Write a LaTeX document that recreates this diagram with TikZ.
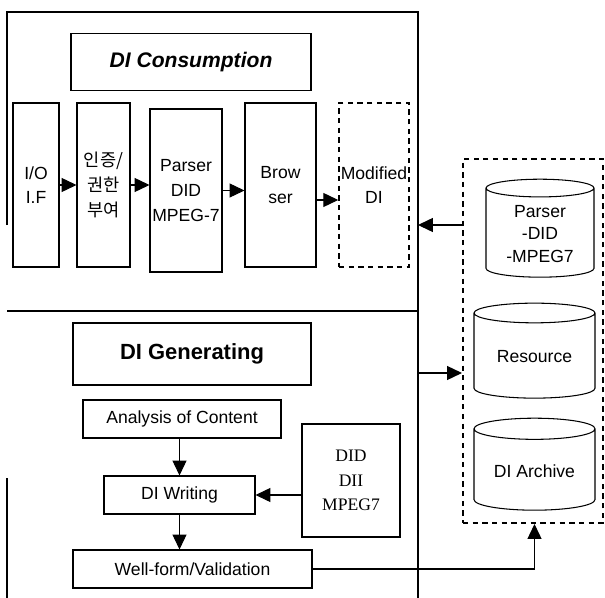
\documentclass[tikz,border=0pt]{standalone}
\usepackage{fontspec}
\setmainfont{Liberation Sans}
\newfontfamily\krfont{Noto Sans CJK KR}
\newfontfamily\serfont{Liberation Serif}
\usetikzlibrary{arrows.meta,shapes.geometric}

\tikzset{
    box/.style={draw, line width=0.6pt, inner sep=1pt, align=center,
        font=\fontsize{10}{14}\selectfont},
    dashbox/.style={box, dash pattern=on 3pt off 2.5pt, line width=0.9pt},
    db/.style={draw, cylinder, shape border rotate=90, aspect=0.25,
        line width=0.6pt, inner sep=1pt, align=center,
        font=\fontsize{10}{13}\selectfont},
    arr/.style={line width=0.6pt, -{Triangle[length=8.5pt,width=8pt]}},
}

\begin{document}
\begin{tikzpicture}[x=0.02cm, y=-0.02cm]
    \useasboundingbox (0,0) rectangle (605,598);

    % Frame of the two parts
    \draw[line width=0.6pt] (7,225) -- (7,12) -- (418,12) -- (418,598);
    \draw[line width=0.6pt] (7,478) -- (7,598);
    \draw[line width=0.6pt] (7,311) -- (418,311); % Split line

    % Consumption part
    \node[box, minimum width=4.8cm, minimum height=1.14cm,
        font=\fontsize{12}{14}\selectfont\bfseries\itshape] (cons) at (191,62) {DI Consumption};
    \node[box, minimum width=0.92cm, minimum height=3.28cm] (io) at (36,185) {I/O\\I.F};
    \node[box, minimum width=1.06cm, minimum height=3.28cm, font=\fontsize{10}{14}\krfont] (auth) at (103.5,185) {인증/\\권한\\부여};
    \node[box, minimum width=1.44cm, minimum height=3.26cm] (parser) at (186,190.5) {Parser\\DID\\MPEG-7};
    \node[box, minimum width=1.42cm, minimum height=3.28cm] (browser) at (280.5,185) {Brow\\ser};
    \node[dashbox, minimum width=1.4cm, minimum height=3.28cm] (modified) at (374,185) {Modified\\DI};

    % Arrows between the steps
    \draw[arr] (io.east) -- (auth.west);
    \draw[arr] (auth.east) -- (auth.east -| parser.west);
    \draw[arr] (parser.east) -- (parser.east -| browser.west);
    \draw[arr] ([yshift=-0.3cm]browser.east) -- ([yshift=-0.3cm]browser.east -| modified.west);

    % Generating part
    \node[box, minimum width=4.76cm, minimum height=1.24cm,
        font=\fontsize{12.5}{14}\selectfont\bfseries] (gen) at (192,354) {DI Generating};
    \node[box, minimum width=3.96cm, minimum height=0.76cm] (analysis) at (182,419) {Analysis of Content};
    \node[box, minimum width=3.02cm, minimum height=0.76cm] (writing) at (179.5,495) {DI Writing};
    \node[box, minimum width=4.78cm, minimum height=0.76cm] (valid) at (192.5,569) {Well-form/Validation};
    \node[box, minimum width=1.96cm, minimum height=2.26cm,
        font=\fontsize{10}{14}\serfont] (spec) at (351,480.5) {DID\\DII\\MPEG7};

    \draw[arr] (writing.north |- analysis.south) -- (writing.north);
    \draw[arr] (writing.south) -- (writing.south |- valid.north);
    \draw[arr] (spec.west |- writing) -- (writing.east);

    % Storage
    \node[dashbox, line width=1.2pt, minimum width=2.8cm, minimum height=7.28cm] (store) at (533,341) {};
    \node[db, minimum width=2.16cm, minimum height=1.96cm] (pdb) at (540,234) {Parser\\-DID\\-MPEG7};
    \node[db, minimum width=2.42cm, minimum height=1.9cm] (res) at (534.5,357) {Resource};
    \node[db, minimum width=2.42cm, minimum height=1.84cm] (arch) at (534.5,471) {DI Archive};

    % Links to the storage
    \coordinate (toCons) at (418,225);
    \coordinate (fromGen) at (418,373);
    \draw[arr] (store.west |- toCons) -- (toCons);
    \draw[arr] (fromGen) -- (fromGen -| store.west);
    \draw[arr] (valid.east) -| (arch.south |- store.south);
\end{tikzpicture}
\end{document}
